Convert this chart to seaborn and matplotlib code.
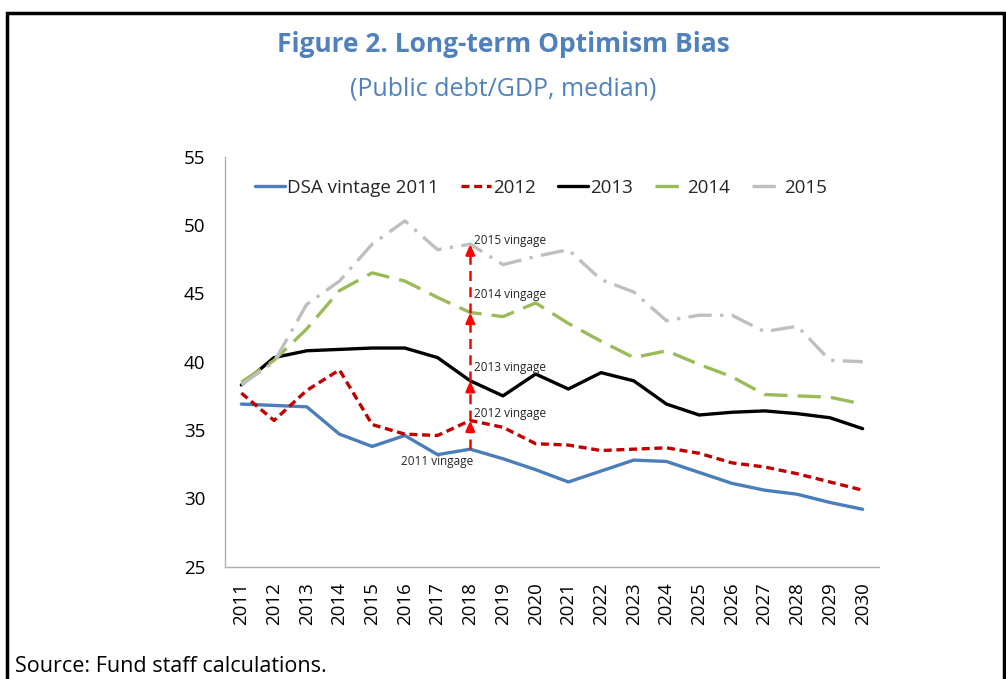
import numpy as np
import pandas as pd
import matplotlib
matplotlib.use("Agg")
import matplotlib.pyplot as plt
from matplotlib.patches import Rectangle
import seaborn as sns

# Data (public debt/GDP, median, by DSA vintage)
years = list(range(2011, 2031))
v2011 = [36.9, 36.8, 36.7, 34.7, 33.8, 34.6, 33.2, 33.6, 32.9, 32.1, 31.2, 32.0,
         32.8, 32.7, 31.9, 31.1, 30.6, 30.3, 29.7, 29.2]
v2012 = [37.7, 35.7, 37.9, 39.4, 35.4, 34.7, 34.6, 35.7, 35.2, 34.0, 33.9, 33.5,
         33.6, 33.7, 33.3, 32.6, 32.3, 31.8, 31.2, 30.6]
v2013 = [38.3, 40.3, 40.8, 40.9, 41.0, 41.0, 40.3, 38.6, 37.5, 39.1, 38.0, 39.2,
         38.6, 36.9, 36.1, 36.3, 36.4, 36.2, 35.9, 35.1]
v2014 = [38.5, 40.1, 42.4, 45.2, 46.5, 45.9, 44.7, 43.6, 43.3, 44.3, 42.8, 41.5,
         40.3, 40.8, 39.8, 38.9, 37.6, 37.5, 37.4, 36.9]
v2015 = [38.3, 40.0, 44.2, 45.9, 48.6, 50.3, 48.2, 48.6, 47.1, 47.7, 48.2, 46.0,
         45.1, 43.0, 43.4, 43.4, 42.2, 42.6, 40.1, 40.0]
series_names = ["DSA vintage 2011", "2012", "2013", "2014", "2015"]
arrow_labels = ["2011 vingage", "2012 vingage", "2013 vingage", "2014 vingage", "2015 vingage"]
arrow_year = 2018
label_y = [32.7, 36.2, 39.6, 44.9, 48.9]

sns.set_theme(style="white")
plt.rcParams["font.family"] = ["Open Sans", "DejaVu Sans"]

df = pd.DataFrame({"idx": np.arange(len(years)), "2011": v2011, "2012": v2012,
                   "2013": v2013, "2014": v2014, "2015": v2015})
df.columns = ["idx"] + series_names
long = df.melt(id_vars="idx", var_name="series", value_name="value")

palette = {"DSA vintage 2011": "#4A7EBB", "2012": "#C00000", "2013": "#000000",
           "2014": "#9BBB59", "2015": "#BFBFBF"}
dashes = {"DSA vintage 2011": "", "2012": (2.4, 1.4), "2013": "",
          "2014": (7, 3), "2015": (7, 2.5, 1, 2.5)}

fig = plt.figure(figsize=(10.06, 6.79), dpi=100)
ax = fig.add_axes([225 / 1006, 1 - 566.7 / 679, 654 / 1006, 410 / 679])

sns.lineplot(data=long, x="idx", y="value", hue="series", style="series",
             palette=palette, dashes=dashes, linewidth=2.4, ax=ax,
             hue_order=series_names, style_order=series_names)

ax.set_xlim(-0.5, len(years) - 0.5)
ax.set_ylim(25, 55)
ax.set_yticks(range(25, 56, 5))
ax.set_xticks(np.arange(len(years)))
ax.set_xticklabels([str(y) for y in years], rotation=90)
ax.set_xticks(np.arange(len(years) + 1) - 0.5, minor=True)
ax.set_xlabel("")
ax.set_ylabel("")
ax.tick_params(axis="x", which="major", length=0, pad=11, labelsize=13.5, colors="black")
ax.tick_params(axis="x", which="minor", length=5, direction="in", color="#B0B0B0", width=1)
ax.tick_params(axis="y", length=5, direction="in", width=1, pad=14, labelsize=13.5,
               labelcolor="black", color="#B0B0B0")
for s in ["top", "right"]:
    ax.spines[s].set_visible(False)
for s in ["left", "bottom"]:
    ax.spines[s].set_color("#B0B0B0")
    ax.spines[s].set_linewidth(1)

leg = ax.legend(loc="center", bbox_to_anchor=(0.483, 0.924), ncol=5, frameon=False,
                fontsize=13.5, handlelength=1.6, handletextpad=0.1, columnspacing=1.2)
for h in leg.get_lines():
    h.set_linewidth(2.4)

# vintage arrows at 2018
ai = years.index(arrow_year)
vals = [v2011[ai], v2012[ai], v2013[ai], v2014[ai], v2015[ai]]
for lo, hi in zip(vals[:-1], vals[1:]):
    ax.plot([ai, ai], [lo, hi - 0.55], color="#FF0000", lw=1.8, ls=(0, (4, 2.5)))
    ax.annotate("", xy=(ai, hi), xytext=(ai, hi - 0.6),
                arrowprops=dict(arrowstyle="-|>,head_length=0.5,head_width=0.22",
                                color="#FF0000", lw=1.8, shrinkA=0, shrinkB=0))
ax.text(ai + 0.1, label_y[0], arrow_labels[0], fontsize=8.5, ha="right", va="center")
for lab, yy in zip(arrow_labels[1:], label_y[1:]):
    ax.text(ai + 0.1, yy, lab, fontsize=8.5, ha="left", va="center")

fig.text(0.5, 1 - 44 / 679, "Figure 2. Long-term Optimism Bias", ha="center", va="center",
         fontsize=19, fontweight="bold", color="#4F81BD")
fig.text(0.5, 1 - 89 / 679, "(Public debt/GDP, median)", ha="center", va="center",
         fontsize=18, color="#4F81BD")
fig.text(15 / 1006, 1 - 667 / 679, "Source: Fund staff calculations.", ha="left",
         va="center", fontsize=15.5, color="black")

fig.patches.append(Rectangle((7 / 1006, -0.1), (1004 - 7) / 1006, 1.1 - 13 / 679,
                             transform=fig.transFigure, fill=False, lw=2.5,
                             ec="black"))

fig.savefig("out.png", dpi=100)
